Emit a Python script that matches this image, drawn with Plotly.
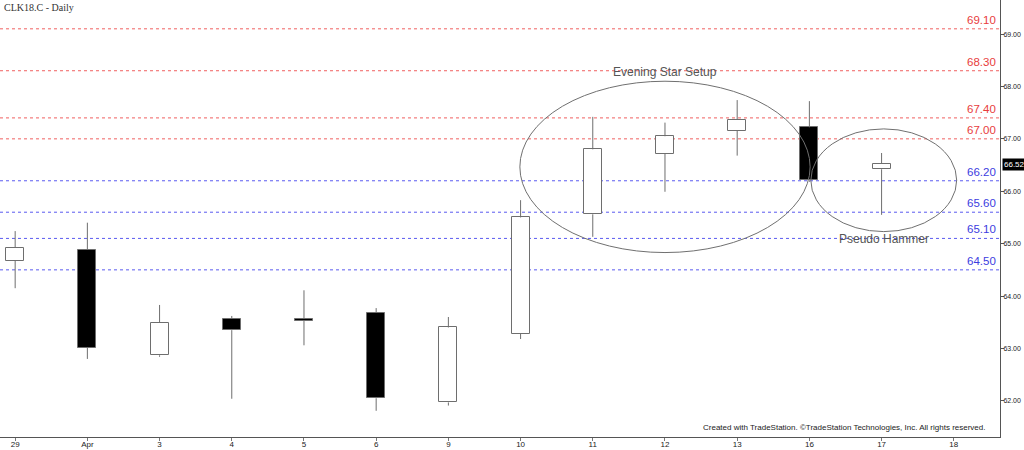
import plotly.graph_objects as go

# ---- data ----
dates = ["29", "Apr", "3", "4", "5", "6", "9", "10", "11", "12", "13", "16", "17", "18"]
opens = [64.67, 64.88, 62.87, 63.57, 63.57, 63.68, 61.97, 63.28, 65.56, 66.72, 67.15, 67.22, 66.42]
highs = [65.24, 65.40, 63.83, 63.62, 64.11, 63.77, 63.60, 65.83, 67.42, 67.31, 67.74, 67.72, 66.73]
lows = [64.15, 62.80, 62.84, 62.04, 63.06, 61.81, 61.91, 63.18, 65.13, 65.99, 66.68, 66.18, 65.55]
closes = [64.92, 63.01, 63.49, 63.35, 63.53, 62.05, 63.40, 65.50, 66.80, 67.05, 67.36, 66.21, 66.52]

red_levels = [69.10, 68.30, 67.40, 67.00]
blue_levels = [66.20, 65.60, 65.10, 64.50]
y_ticks = [62, 63, 64, 65, 66, 67, 68, 69]
last_price = 66.52

# ellipse regions (x index, price)
evening_box = (6.99, 11.01, 64.83, 68.10)
hammer_box = (11.02, 13.04, 65.23, 67.19)

XMIN, XMAX = -0.21, 13.64
YMIN, YMAX = 61.31, 69.65

fig = go.Figure()

# wicks drawn as upper/lower segments so they don't cross bodies
wx, wy = [], []
for i, (o, h, l, c) in enumerate(zip(opens, highs, lows, closes)):
    top, bot = max(o, c), min(o, c)
    wx += [i, i, None, i, i, None]
    wy += [h, top, None, bot, l, None]
fig.add_trace(go.Scatter(x=wx, y=wy, mode="lines", line=dict(color="#6e6e6e", width=1),
                         hoverinfo="skip", showlegend=False))

# bodies
xs = list(range(len(opens)))
bases = [min(o, c) for o, c in zip(opens, closes)]
heights = [max(abs(c - o), 0.03) for o, c in zip(opens, closes)]
fills = ["white" if c >= o else "black" for o, c in zip(opens, closes)]
fig.add_trace(go.Bar(x=xs, y=heights, base=bases, width=0.25,
                     marker=dict(color=fills, line=dict(color="#6e6e6e", width=1)),
                     showlegend=False, hoverinfo="skip"))

shapes = []
annotations = []
for lv in red_levels:
    shapes.append(dict(type="line", xref="paper", x0=0, x1=1, yref="y", y0=lv, y1=lv,
                       line=dict(color="#f06060", width=1, dash="dot"), layer="below"))
    annotations.append(dict(x=0.998, xref="paper", y=lv, yref="y", text=f"{lv:.2f}",
                            showarrow=False, xanchor="right", yanchor="bottom", yshift=1,
                            font=dict(family="Arial", size=11.5, color="#e83c3c")))
for lv in blue_levels:
    shapes.append(dict(type="line", xref="paper", x0=0, x1=1, yref="y", y0=lv, y1=lv,
                       line=dict(color="#5a5af0", width=1, dash="dot"), layer="below"))
    annotations.append(dict(x=0.998, xref="paper", y=lv, yref="y", text=f"{lv:.2f}",
                            showarrow=False, xanchor="right", yanchor="bottom", yshift=1,
                            font=dict(family="Arial", size=11.5, color="#3c3ce0")))

for (x0, x1, y0, y1) in (evening_box, hammer_box):
    shapes.append(dict(type="circle", xref="x", yref="y", x0=x0, x1=x1, y0=y0, y1=y1,
                       line=dict(color="#707070", width=1)))

annotations.append(dict(x=(evening_box[0] + evening_box[1]) / 2, y=evening_box[3], xref="x", yref="y",
                        text="Evening Star Setup", showarrow=False, yanchor="bottom", yshift=0,
                        font=dict(family="Arial", size=12, color="#555555")))
annotations.append(dict(x=(hammer_box[0] + hammer_box[1]) / 2, y=hammer_box[2], xref="x", yref="y",
                        text="Pseudo Hammer", showarrow=False, yanchor="top", yshift=2,
                        font=dict(family="Arial", size=12, color="#555555")))

annotations.append(dict(x=0.002, y=1, xref="paper", yref="paper", text="CLK18.C - Daily",
                        showarrow=False, xanchor="left", yanchor="top", yshift=0,
                        font=dict(family="Liberation Serif", size=10, color="#333333")))
annotations.append(dict(x=0.988, y=0.008, xref="paper", yref="paper",
                        text="Created with TradeStation. \u00a9TradeStation Technologies, Inc. All rights reserved.",
                        showarrow=False, xanchor="right", yanchor="bottom",
                        font=dict(family="Arial", size=8, color="#222222")))
annotations.append(dict(x=1.0, y=last_price, xref="paper", yref="y", text=f"{last_price:.2f}",
                        showarrow=False, xanchor="left", yanchor="middle", xshift=2,
                        bgcolor="black", borderpad=1,
                        font=dict(family="Arial", size=8, color="white")))

fig.update_layout(
    width=1024, height=450,
    margin=dict(l=0, r=24, t=0, b=13, autoexpand=False),
    paper_bgcolor="white", plot_bgcolor="white",
    shapes=shapes, annotations=annotations,
    showlegend=False, bargap=0,
    xaxis=dict(range=[XMIN, XMAX], tickmode="array", tickvals=list(range(len(dates))), ticktext=dates,
               showgrid=False, zeroline=False, showline=True, linecolor="#555555", linewidth=1,
               ticks="outside", ticklen=3, tickcolor="#777777", ticklabelstandoff=-4,
               tickfont=dict(family="Arial", size=8, color="#222222"), fixedrange=True),
    yaxis=dict(range=[YMIN, YMAX], side="right", tickmode="array", tickvals=y_ticks,
               ticktext=[f"{v:.2f}" for v in y_ticks],
               showgrid=False, zeroline=False, showline=True, linecolor="#555555", linewidth=1,
               ticks="outside", ticklen=3, tickcolor="#555555", ticklabelstandoff=-2,
               tickfont=dict(family="Arial", size=7, color="#222222"), fixedrange=True),
)

fig.write_html("out.html", config={"displayModeBar": False},
               post_script="document.body.style.margin='0px';document.body.style.overflow='hidden';")
